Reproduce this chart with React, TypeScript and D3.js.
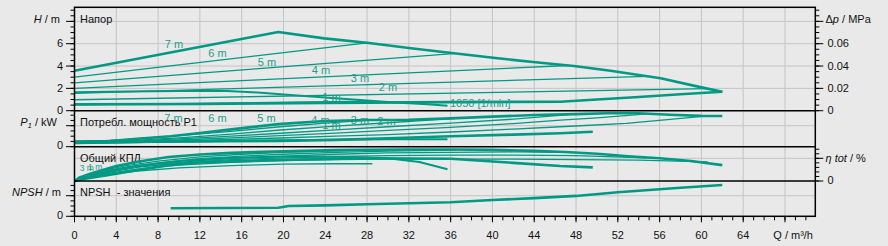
import React from 'react';
import * as d3 from 'd3';

// ---------- data ----------
const qMajorTicks = [0, 4, 8, 12, 16, 20, 24, 28, 32, 36, 40, 44, 48, 52, 56, 60, 64, 68];
const qTickLabels = ['0', '4', '8', '12', '16', '20', '24', '28', '32', '36', '40', '44', '48', '52', '56', '60', '64', ''];

// H panel (m)
const qHMax = [0, 19.5, 23.9, 28, 32.2, 36.3, 40.5, 44.6, 47.8, 51.3, 56.1, 60, 62];
const hMax = [3.58, 7.05, 6.48, 6.09, 5.59, 5.14, 4.69, 4.3, 4.0, 3.58, 2.9, 2.09, 1.7];
const qH6 = [0, 28.2];
const hH6 = [3.0, 6.1];
const qH5 = [0, 36.5];
const hH5 = [2.5, 5.13];
const qH4 = [0, 47.3];
const hH4 = [2.0, 4.05];
const qH3 = [0, 54.8];
const hH3 = [1.55, 3.08];
const qH2 = [0, 60.6];
const hH2 = [0.98, 1.97];
const qH1 = [0, 28.5];
const hH1 = [0.52, 0.86];
const qH1050 = [0, 5, 10, 14.6, 17.5, 20.7, 24, 27, 30.3, 33.8, 35.7];
const hH1050 = [1.65, 1.72, 1.77, 1.77, 1.62, 1.41, 1.18, 0.97, 0.75, 0.57, 0.45];
const qHLow = [0, 12, 24, 36, 46.5, 50, 54, 58, 62];
const hHLow = [0.57, 0.6, 0.7, 0.77, 0.8, 1.0, 1.23, 1.47, 1.7];

const hLabels = ['7 m', '6 m', '5 m', '4 m', '3 m', '2 m', '1 m'];
const hLabelQ = [9.52, 13.68, 18.42, 23.59, 27.32, 30.0, 24.59];
const hLabelH = [5.94, 5.14, 4.39, 3.64, 2.9, 2.09, 1.25];
const speedLabel = '1050 [1/min]';
const speedLabelQ = 35.93;
const speedLabelH = 0.66;

// P1 panel (kW)
const qPMax = [0, 3.4, 6, 9.2, 12, 15, 19.5, 24, 28, 32, 36, 40, 44, 48, 51, 54, 57, 60, 62];
const pMax = [0.05, 0.055, 0.075, 0.1, 0.13, 0.165, 0.215, 0.245, 0.254, 0.256, 0.27, 0.286, 0.302, 0.31, 0.318, 0.318, 0.305, 0.294, 0.292];
const qP6 = [0, 5, 10, 15, 19.7, 24, 28.2];
const pP6 = [0.04, 0.07, 0.105, 0.145, 0.19, 0.225, 0.254];
const qP5 = [0, 5, 10, 15, 19.7, 25, 30, 36.5];
const pP5 = [0.038, 0.058, 0.085, 0.12, 0.159, 0.195, 0.228, 0.27];
const qP4 = [0, 5, 10, 15, 19.7, 25, 30, 36, 42, 47.3];
const pP4 = [0.036, 0.053, 0.075, 0.1, 0.128, 0.16, 0.19, 0.225, 0.262, 0.305];
const qP3 = [0, 5, 10, 15, 19.7, 25, 30, 36, 42, 46.5, 50, 54.8];
const pP3 = [0.034, 0.048, 0.064, 0.084, 0.105, 0.13, 0.155, 0.185, 0.22, 0.254, 0.275, 0.313];
const qP2 = [0, 5, 10, 15, 19.7, 25, 30, 36, 42, 46.5, 52.8, 57, 60.6];
const pP2 = [0.032, 0.044, 0.056, 0.07, 0.083, 0.1, 0.115, 0.14, 0.168, 0.19, 0.223, 0.26, 0.294];
const qP1 = [0, 5, 10, 15, 20, 25, 28.5];
const pP1 = [0.03, 0.037, 0.045, 0.052, 0.06, 0.068, 0.073];
const qP1050 = [0, 5, 10, 15, 20, 25, 30, 35.7];
const pP1050 = [0.035, 0.042, 0.05, 0.056, 0.062, 0.066, 0.07, 0.072];
const qPLow = [0, 10, 19.7, 25, 30, 36, 42, 46.5, 49.6];
const pPLow = [0.045, 0.05, 0.054, 0.065, 0.08, 0.1, 0.115, 0.128, 0.143];

const pLabels = ['7 m', '6 m', '5 m', '4 m', '1 m', '3 m', '2 m'];
const pLabelQ = [9.47, 13.68, 18.37, 23.54, 24.59, 27.32, 29.86];
const pLabelP = [0.273, 0.273, 0.273, 0.259, 0.207, 0.259, 0.245];

// efficiency panel (%)
const qEMax = [0, 0.5, 1.5, 2.7, 4, 6, 9, 12, 15, 18, 22, 25, 28, 32, 36, 40, 44, 47, 50, 53, 56, 59, 62];
const eMax = [0, 8, 16, 24, 33, 42.5, 53, 58.5, 62, 64.5, 66.5, 68, 69, 69.5, 69.5, 68.5, 66.5, 64, 60, 54.5, 50, 44, 35];
const qE6 = [0, 0.5, 1.5, 3, 5, 8, 12, 16, 20, 24, 28.2];
const eE6 = [0, 7, 15, 25, 34, 44, 53, 59, 63, 66, 68];
const qE5 = [0, 0.5, 1.5, 3, 5, 8, 12, 16, 20, 25, 30, 36.5];
const eE5 = [0, 6, 14, 23, 31, 40, 49, 55, 59, 63, 66, 68];
const qE4 = [0, 0.5, 1.5, 3, 5, 8, 12, 16, 20, 25, 30, 36, 42, 47.3];
const eE4 = [0, 6, 13, 21, 29, 37, 45, 51, 55, 59, 62, 63, 64, 63];
const qE3 = [0, 1, 3, 6, 10, 15, 20, 25, 30, 36, 42, 48, 54.8];
const eE3 = [0, 8, 18, 30, 40, 47, 51, 54, 56, 57, 57, 56, 51];
const qE2 = [0, 1, 3, 6, 10, 15, 20, 25, 30, 36, 42, 48, 54, 60.6];
const eE2 = [0, 7, 16, 26, 35, 41, 45, 47, 48, 48, 48, 47, 46, 42];
const qE1 = [0, 1, 3, 6, 10, 15, 20, 25, 28.5];
const eE1 = [0, 6, 14, 22, 29, 34, 37, 38, 38];
const qE1050 = [0, 1, 3, 6, 10, 14, 18, 22, 26, 30, 33, 35.7];
const eE1050 = [0, 8, 20, 33, 44, 50, 53, 54, 53, 50, 42, 26];
const qELow = [0, 1, 3, 6, 9, 12, 18.7, 28, 36, 42, 46.5, 49.6];
const eELow = [0, 5, 12, 24, 35, 41, 46, 50, 49, 40, 33, 30];

const eLabels = ['3 m', '1 m'];
const eLabelQ = [0.5, 1.3];
const eLabelE = [29, 31];

// NPSH panel (m)
const qN = [9.2, 19.5, 20.5, 24, 28, 32, 36, 40, 44, 48, 52, 55, 58, 62];
const nN = [0.78, 0.83, 1.0, 1.06, 1.17, 1.27, 1.37, 1.58, 1.77, 1.98, 2.33, 2.55, 2.78, 3.04];

// ---------- style ----------
const FONT = "'Liberation Sans', Arial, Helvetica, sans-serif";
const TEAL = '#009a84';
const LABEL = '#1a9f8b';
const THICK = 2.6;
const MED = 2;
const THIN = 1.3;

type Series = { q: number[]; v: number[]; w: number };

export default function App() {
  const x = d3.scaleLinear().domain([0, 70.9]).range([74.5, 815.3]);
  const yH = d3.scaleLinear().domain([0, 9.26]).range([110.7, 7.3]);
  const yDp = d3.scaleLinear().domain([0, 0.0926]).range([110.7, 7.3]);
  const yP = d3.scaleLinear().domain([0, 0.34]).range([146.7, 111]);
  const yE = d3.scaleLinear().domain([0, 75.6]).range([181, 146.7]);
  const yN = d3.scaleLinear().domain([0, 3.43]).range([216.3, 181]);

  const X0 = x(0);
  const X1 = x(70.9);

  const mk = (s: Series, y: d3.ScaleLinear<number, number>) =>
    d3
      .line<number>()
      .x((_, i) => x(s.q[i]))
      .y((v) => y(v))(s.v) || '';

  const hSeries: Series[] = [
    { q: qH6, v: hH6, w: THIN },
    { q: qH5, v: hH5, w: THIN },
    { q: qH4, v: hH4, w: THIN },
    { q: qH3, v: hH3, w: THIN },
    { q: qH2, v: hH2, w: THIN },
    { q: qH1, v: hH1, w: THIN },
    { q: qH1050, v: hH1050, w: MED },
    { q: qHLow, v: hHLow, w: THICK },
    { q: qHMax, v: hMax, w: THICK },
  ];
  const pSeries: Series[] = [
    { q: qP6, v: pP6, w: THIN },
    { q: qP5, v: pP5, w: THIN },
    { q: qP4, v: pP4, w: THIN },
    { q: qP3, v: pP3, w: THIN },
    { q: qP2, v: pP2, w: THIN },
    { q: qP1, v: pP1, w: THIN },
    { q: qP1050, v: pP1050, w: MED },
    { q: qPLow, v: pPLow, w: THICK },
    { q: qPMax, v: pMax, w: THICK },
  ];
  const eSeries: Series[] = [
    { q: qE6, v: eE6, w: THIN },
    { q: qE5, v: eE5, w: THIN },
    { q: qE4, v: eE4, w: THIN },
    { q: qE3, v: eE3, w: THIN },
    { q: qE2, v: eE2, w: THIN },
    { q: qE1, v: eE1, w: THIN },
    { q: qE1050, v: eE1050, w: MED },
    { q: qELow, v: eELow, w: THICK },
    { q: qEMax, v: eMax, w: THICK },
  ];
  const nSeries: Series[] = [{ q: qN, v: nN, w: THICK }];

  const qMinor = d3.range(0, 70.5, 1);
  const hMinor = d3.range(0, 9.01, 0.5);
  const hMajor = [0, 2, 4, 6, 8];
  const dpMinor = d3.range(0, 0.0901, 0.005);
  const dpMajor = [0, 0.02, 0.04, 0.06, 0.08];
  const pMinor = d3.range(0, 0.331, 0.05);
  const pMajor = [0, 0.2];
  const eMinor = d3.range(0, 71, 10);
  const eMajor = [0, 50];
  const nMinor = d3.range(0, 3.01, 0.5);
  const nMajor = [0, 2];

  const gridColor = '#c4c4c4';
  const txt = { fontFamily: FONT, fontSize: 11, fill: '#111' } as const;
  const tick = { fontFamily: FONT, fontSize: 11, fill: '#111' } as const;

  const leftTicks = (minor: number[], major: number[], y: d3.ScaleLinear<number, number>, k: string) => (
    <g key={k}>
      {minor.map((v, i) => (
        <line key={'m' + i} x1={X0 - 4} x2={X0} y1={y(v)} y2={y(v)} stroke="#000" strokeWidth={1} />
      ))}
      {major.map((v, i) => (
        <line key={'M' + i} x1={X0 - 8.5} x2={X0} y1={y(v)} y2={y(v)} stroke="#000" strokeWidth={1} />
      ))}
    </g>
  );
  const rightTicks = (minor: number[], major: number[], y: d3.ScaleLinear<number, number>, k: string) => (
    <g key={k}>
      {minor.map((v, i) => (
        <line key={'m' + i} x1={X1} x2={X1 + 4} y1={y(v)} y2={y(v)} stroke="#000" strokeWidth={1} />
      ))}
      {major.map((v, i) => (
        <line key={'M' + i} x1={X1} x2={X1 + 8} y1={y(v)} y2={y(v)} stroke="#000" strokeWidth={1} />
      ))}
    </g>
  );

  const drawSeries = (list: Series[], y: d3.ScaleLinear<number, number>, k: string) => (
    <g key={k}>
      {list.map((s, i) => (
        <path key={i} d={mk(s, y)} fill="none" stroke={TEAL} strokeWidth={s.w} strokeLinejoin="round" />
      ))}
    </g>
  );

  return (
    <svg
      width={888}
      height={246}
      style={{ position: 'absolute', left: 0, top: 0, display: 'block' }}
      xmlns="http://www.w3.org/2000/svg"
    >
      <rect x={0} y={0} width={888} height={246} fill="#e9e9e9" />

      {/* grid */}
      {qMajorTicks
        .filter((q) => q > 0)
        .map((q, i) => (
          <line key={'vg' + i} x1={x(q)} x2={x(q)} y1={yH(9.26)} y2={yN(0)} stroke={gridColor} strokeWidth={1} />
        ))}
      {[2, 4, 6, 8].map((h, i) => (
        <line key={'hg' + i} x1={X0} x2={X1} y1={yH(h)} y2={yH(h)} stroke={gridColor} strokeWidth={1} />
      ))}
      <line x1={X0} x2={X1} y1={yP(0.2)} y2={yP(0.2)} stroke={gridColor} strokeWidth={1} />
      <line x1={X0} x2={X1} y1={yE(50)} y2={yE(50)} stroke={gridColor} strokeWidth={1} />
      <line x1={X0} x2={X1} y1={yN(2)} y2={yN(2)} stroke={gridColor} strokeWidth={1} />

      {/* panel titles */}
      <text x={80} y={23} style={txt}>Напор</text>
      <text x={80} y={126} style={txt}>Потребл. мощность P1</text>
      <text x={80} y={162} style={txt}>Общий КПД</text>
      <text x={80} y={196} style={txt} xmlSpace="preserve">NPSH  - значения</text>

      {/* curves */}
      {drawSeries(hSeries, yH, 'hs')}
      {drawSeries(pSeries, yP, 'ps')}
      {drawSeries(eSeries, yE, 'es')}
      {drawSeries(nSeries, yN, 'ns')}

      {/* curve labels */}
      {hLabels.map((t, i) => (
        <text key={'hl' + i} x={x(hLabelQ[i])} y={yH(hLabelH[i])} textAnchor="middle" dominantBaseline="central" style={{ ...txt, fill: LABEL }}>
          {t}
        </text>
      ))}
      <text x={x(speedLabelQ)} y={yH(speedLabelH)} dominantBaseline="central" style={{ ...txt, fill: LABEL }}>
        {speedLabel}
      </text>
      {pLabels.map((t, i) => (
        <text key={'pl' + i} x={x(pLabelQ[i])} y={yP(pLabelP[i])} textAnchor="middle" dominantBaseline="central" style={{ ...txt, fill: LABEL }}>
          {t}
        </text>
      ))}
      {eLabels.map((t, i) => (
        <text key={'el' + i} x={x(eLabelQ[i])} y={yE(eLabelE[i])} dominantBaseline="central" style={{ ...txt, fontSize: 8.5, fill: LABEL }}>
          {t}
        </text>
      ))}

      {/* frame */}
      <rect x={X0} y={yH(9.26)} width={X1 - X0} height={yN(0) - yH(9.26)} fill="none" stroke="#000" strokeWidth={1.5} />
      <line x1={X0} x2={X1} y1={yH(0)} y2={yH(0)} stroke="#000" strokeWidth={1.5} />
      <line x1={X0} x2={X1} y1={yP(0)} y2={yP(0)} stroke="#000" strokeWidth={1.5} />
      <line x1={X0} x2={X1} y1={yE(0)} y2={yE(0)} stroke="#000" strokeWidth={1.5} />

      {/* left axes */}
      {leftTicks(hMinor, hMajor, yH, 'lth')}
      {leftTicks(pMinor, pMajor, yP, 'ltp')}
      {leftTicks(nMinor, nMajor, yN, 'ltn')}
      {[0, 2, 4, 6].map((h, i) => (
        <text key={'hv' + i} x={63} y={yH(h) - 0.5} textAnchor="end" dominantBaseline="central" style={tick}>
          {String(h)}
        </text>
      ))}
      <text x={60} y={yH(8) + 1.5} textAnchor="end" style={tick}>
        <tspan fontStyle="italic">H</tspan> / m
      </text>
      <text x={63} y={yP(0) - 1.5} textAnchor="end" dominantBaseline="central" style={tick}>0</text>
      <text x={57} y={yP(0.2)} textAnchor="end" style={tick}>
        <tspan fontStyle="italic">P</tspan>
        <tspan fontStyle="italic" fontSize={8} dy={2}>1</tspan>
        <tspan dy={-2}> / kW</tspan>
      </text>
      <text x={63} y={yN(0) - 1.3} textAnchor="end" dominantBaseline="central" style={tick}>0</text>
      <text x={61} y={yN(2) + 0.5} textAnchor="end" style={tick}>
        <tspan fontStyle="italic">NPSH</tspan> / m
      </text>

      {/* right axes */}
      {rightTicks(dpMinor, dpMajor, yDp, 'rtd')}
      {rightTicks(eMinor, eMajor, yE, 'rte')}
      {[0, 0.02, 0.04, 0.06].map((v, i) => (
        <text key={'dv' + i} x={827.5} y={yDp(v) - 0.5} dominantBaseline="central" style={tick}>
          {v === 0 ? '0' : v.toFixed(2)}
        </text>
      ))}
      <text x={825.5} y={yDp(0.08) + 2} style={tick}>
        Δ<tspan fontStyle="italic">p</tspan> / MPa
      </text>
      <text x={827.5} y={yE(0) - 1} dominantBaseline="central" style={tick}>0</text>
      <text x={825.5} y={yE(50) + 3.5} style={tick}>
        <tspan fontStyle="italic">η tot</tspan> / %
      </text>

      {/* bottom axis */}
      {qMinor.map((q, i) => (
        <line key={'qm' + i} x1={x(q)} x2={x(q)} y1={yN(0)} y2={yN(0) + 4} stroke="#000" strokeWidth={1} />
      ))}
      {qMajorTicks.map((q, i) => (
        <line key={'qM' + i} x1={x(q)} x2={x(q)} y1={yN(0)} y2={yN(0) + 6} stroke="#000" strokeWidth={1} />
      ))}
      {qMajorTicks.map((q, i) => (
        <text key={'ql' + i} x={x(q)} y={235} textAnchor="middle" dominantBaseline="central" style={tick}>
          {qTickLabels[i]}
        </text>
      ))}
      <text x={813} y={235} textAnchor="end" dominantBaseline="central" style={tick}>
        Q / m³/h
      </text>
    </svg>
  );
}
